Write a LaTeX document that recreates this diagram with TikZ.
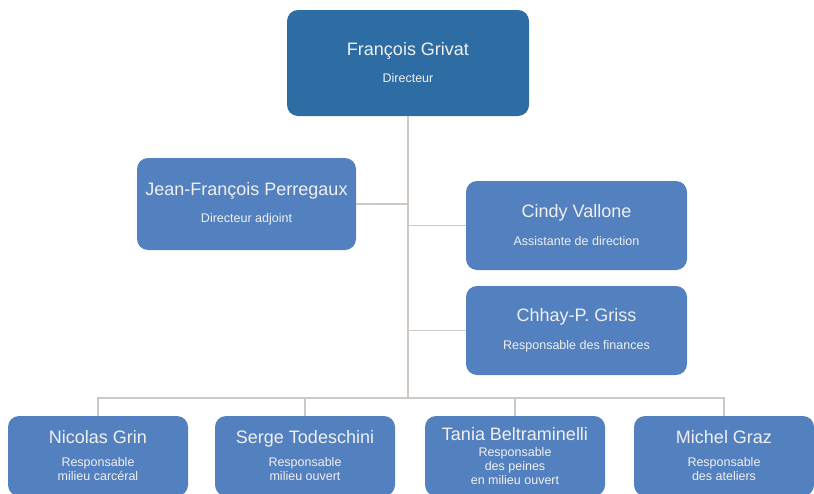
\documentclass[tikz,border=0pt]{standalone}
\usepackage{fontspec}
\setmainfont{Liberation Sans}
\usetikzlibrary{positioning}
\definecolor{orgdark}{RGB}{46,108,164}
\definecolor{orgblue}{RGB}{83,128,190}
\definecolor{orgline}{RGB}{207,200,194}
\newcommand{\rolesize}{\fontsize{12.5}{14}\selectfont}
\tikzset{
  orgbox/.style={rectangle,rounded corners=11pt,fill=orgblue,text=white!94!black,align=center,inner sep=0pt,font=\fontsize{18}{20}\selectfont},
  orgtop/.style={orgbox,fill=orgdark},
  orgstaff/.style={orgbox,minimum width=221pt,minimum height=89pt},
  orgunit/.style={orgbox,minimum width=180pt,minimum height=80pt}
}

\begin{document}
\begin{tikzpicture}[x=1pt,y=-1pt]
  \useasboundingbox (0,0) rectangle (814,493);
  \clip (0,0) rectangle (814,493);
  \node[orgtop,minimum width=242pt,minimum height=106pt] (dir) at (408,63) {François Grivat\\[7pt]{\rolesize Directeur}};
  \node[orgbox,minimum width=219pt,minimum height=92pt] (adj) at (246.5,204) {Jean-François Perregaux\\[7pt]{\rolesize Directeur adjoint}};
  \node[orgstaff] (ass) at (576.5,225.5) {Cindy Vallone\\[8pt]{\rolesize Assistante de direction}};
  \node[orgstaff] (fin) at (576.5,330.5) {Chhay-P. Griss\\[8pt]{\rolesize Responsable des finances}};
  \coordinate (bus) at (408,398);
  \node[orgunit] (car) at (98,456) {Nicolas Grin\\[3pt]{\rolesize Responsable}\\[-6pt]{\rolesize milieu carcéral}};
  \node[orgunit] (ouv) at (305,456) {Serge Todeschini\\[3pt]{\rolesize Responsable}\\[-6pt]{\rolesize milieu ouvert}};
  \node[orgunit] (pei) at (515,456) {Tania Beltraminelli\\[-4pt]{\rolesize Responsable}\\[-6pt]{\rolesize des peines}\\[-6pt]{\rolesize en milieu ouvert}};
  \node[orgunit] (ate) at (724,456) {Michel Graz\\[3pt]{\rolesize Responsable}\\[-6pt]{\rolesize des ateliers}};
  % liens
  \draw[draw=orgline,line width=1.5pt] (dir.south) -- (bus);
  \draw[draw=orgline,line width=1.5pt] (adj.east) -- (adj.east -| bus);
  \draw[draw=orgline,line width=1.5pt] (ass.west) -- (ass.west -| bus);
  \draw[draw=orgline,line width=1.5pt] (fin.west) -- (fin.west -| bus);
  \draw[draw=orgline,line width=1.5pt] (bus) -| (car.north);
  \draw[draw=orgline,line width=1.5pt] (bus) -| (ouv.north);
  \draw[draw=orgline,line width=1.5pt] (bus) -| (pei.north);
  \draw[draw=orgline,line width=1.5pt] (bus) -| (ate.north);
\end{tikzpicture}
\end{document}
